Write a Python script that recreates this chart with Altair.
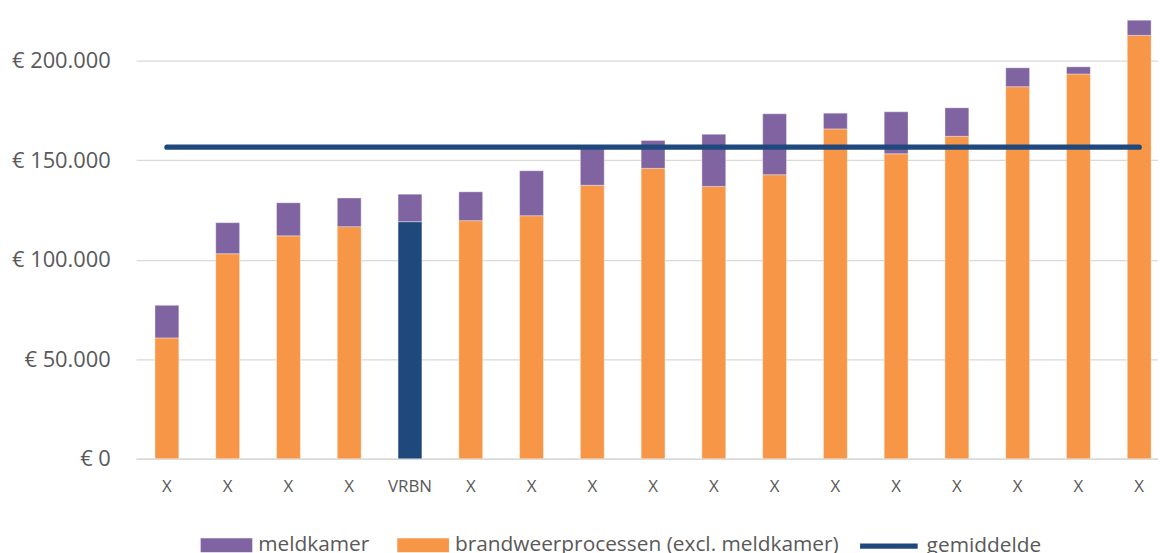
import altair as alt
import pandas as pd

# ---- data ----
labels = ["X", "X", "X", "X", "VRBN", "X", "X", "X", "X", "X", "X", "X", "X", "X", "X", "X", "X"]
brandweer = [60700, 103000, 112000, 116600, 119100, 119600, 122100, 137400, 145900,
             136800, 142700, 165700, 153200, 162000, 186900, 193300, 212700]
meldkamer = [16400, 15600, 16600, 14400, 13800, 14500, 22600, 18600, 14000,
             26200, 30600, 7900, 21100, 14300, 9500, 3600, 7600]
gemiddelde = 156500
highlight = "VRBN"

S_MELD = "meldkamer"
S_BRAND = "brandweerprocessen (excl. meldkamer)"
S_AVG = "gemiddelde"

C_PURPLE = "#8064A2"
C_ORANGE = "#F79646"
C_BLUE = "#1F497D"
TEXT = "#595959"
GRID = "#D9D9D9"
FONT = "Open Sans"

rows = []
for i, lab in enumerate(labels):
    rows.append({"pos": i, "serie": S_BRAND,
                 "kleur": "VRBN" if lab == highlight else S_BRAND,
                 "waarde": brandweer[i], "volg": 0})
    rows.append({"pos": i, "serie": S_MELD, "kleur": S_MELD,
                 "waarde": meldkamer[i], "volg": 1})
bars_df = pd.DataFrame(rows)
avg_df = pd.DataFrame({"pos": list(range(len(labels))),
                       "waarde": [gemiddelde] * len(labels),
                       "naam": [S_AVG] * len(labels)})

label_expr = "[" + ",".join("'" + l + "'" for l in labels) + "][datum.value]"

x_scale = alt.Scale(paddingInner=0.6078, paddingOuter=0.212, align=0.733)
x_enc = alt.X("pos:O", scale=x_scale, sort="ascending",
              axis=alt.Axis(title=None, labelExpr=label_expr, labelAngle=0,
                            labelFont=FONT, labelFontSize=17, labelColor=TEXT,
                            labelPadding=20, ticks=False, tickSize=0,
                            domain=True, domainColor=GRID, domainWidth=1.3,
                            grid=False))

y_scale = alt.Scale(domain=[0, 225000], nice=False, zero=True)

bars = alt.Chart(bars_df).mark_bar(stroke="white", strokeWidth=0.6, strokeOpacity=0.6).encode(
    x=x_enc,
    y=alt.Y("sum(waarde):Q", scale=y_scale, stack="zero",
            axis=alt.Axis(title=None, values=[0, 50000, 100000, 150000, 200000],
                          labelExpr="'€ ' + replace(format(datum.value, ','), ',', '.')",
                          labelFont=FONT, labelFontSize=22, labelColor=TEXT,
                          labelPadding=26, ticks=False, tickSize=0, domain=False,
                          grid=True, gridColor=GRID, gridWidth=1.3)),
    color=alt.Color("kleur:N",
                    scale=alt.Scale(domain=[S_MELD, S_BRAND, "VRBN"],
                                    range=[C_PURPLE, C_ORANGE, C_BLUE]),
                    legend=alt.Legend(title=None, values=[S_MELD, S_BRAND],
                                      orient="none", legendX=65, legendY=512,
                                      direction="horizontal",
                                      symbolType="M-1,-0.27H1V0.27H-1Z",
                                      symbolSize=2704, symbolStrokeWidth=0,
                                      labelFont=FONT, labelFontSize=21,
                                      labelColor=TEXT, labelOffset=6,
                                      labelLimit=600,
                                      columnPadding=28, padding=0)),
    order=alt.Order("volg:Q", sort="ascending"),
)

line = alt.Chart(avg_df).mark_line(strokeWidth=5.3, strokeCap="round").encode(
    x=alt.X("pos:O", scale=x_scale, sort="ascending"),
    y=alt.Y("waarde:Q", scale=y_scale),
    stroke=alt.Stroke("naam:N", scale=alt.Scale(domain=[S_AVG], range=[C_BLUE]),
                      legend=alt.Legend(title=None, orient="none",
                                        legendX=726, legendY=507,
                                        symbolType="stroke", symbolSize=3364,
                                        symbolStrokeWidth=5.3,
                                        labelFont=FONT, labelFontSize=21,
                                        labelColor=TEXT, labelOffset=6,
                                        labelLimit=600,
                                        padding=0)),
)

chart = alt.layer(bars, line).resolve_legend(color="independent", stroke="independent").properties(
    width=1029, height=451,
    padding={"left": 129, "top": 1, "right": 0, "bottom": 93},
    autosize=alt.AutoSizeParams(type="none"),
    background="white",
).configure_view(strokeWidth=0, stroke="transparent")

chart.save("out.html", embed_options={"renderer": "svg", "actions": False})
